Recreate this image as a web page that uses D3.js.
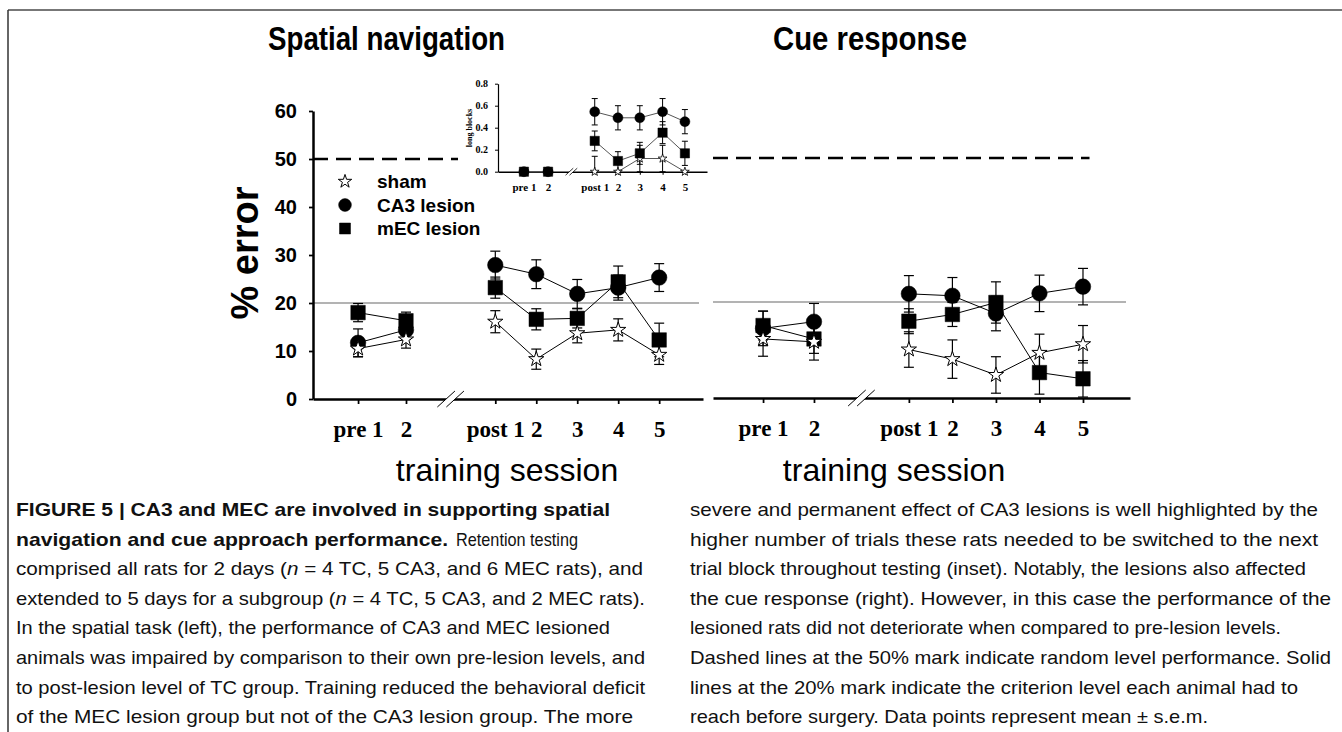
<!DOCTYPE html>
<html>
<head>
<meta charset="utf-8">
<script src="https://cdn.jsdelivr.net/npm/d3@7"></script>
<style>
html,body{margin:0;padding:0;background:#fff;}
svg{display:block;}
</style>
</head>
<body>
<svg id="chart" width="1342" height="732"></svg>
<script>
// ---------------- DATA ----------------
const sessions = ["pre 1", "2", "post 1", "2", "3", "4", "5"];
// position of each session along the axis (session units; pre and post blocks are separated by a break)
const sessionPos = [0, 1.17, 3.35, 4.35, 5.35, 6.35, 7.35];
const insetPos = [0, 1.07, 3.14, 4.17, 5.14, 6.15, 7.14];
const blocks = [[0, 1], [2, 3, 4, 5, 6]];
const errorTicks = [0, 10, 20, 30, 40, 50, 60];
const blockTicks = [0, 0.2, 0.4, 0.6, 0.8];
const chanceLevel = 50;
const criterionLevel = 20;
const groups = ["sham", "CA3 lesion", "mEC lesion"];

// Spatial navigation (% error, mean and s.e.m.)
const spatialSham    = [10.5, 12.4, 16.1, 8.3, 13.7, 14.4, 9.2];
const spatialShamSem = [1.7, 1.8, 2.3, 2.1, 2.0, 2.3, 2.0];
const spatialCA3     = [11.7, 14.4, 27.9, 26.0, 21.9, 23.2, 25.3];
const spatialCA3Sem  = [2.9, 2.0, 2.9, 3.0, 3.0, 2.6, 2.9];
const spatialMEC     = [18.0, 16.3, 23.2, 16.6, 16.8, 24.4, 12.3];
const spatialMECSem  = [1.9, 1.8, 2.2, 2.2, 2.0, 3.3, 3.5];

// Cue response (% error)
const cueSham    = [12.3, 11.7, 10.1, 8.1, 4.8, 9.4, 11.2];
const cueShamSem = [3.6, 3.8, 3.7, 4.0, 3.8, 3.9, 3.9];
const cueCA3     = [14.5, 15.9, 21.7, 21.3, 17.6, 21.8, 23.2];
const cueCA3Sem  = [3.6, 3.8, 3.8, 3.8, 3.6, 3.8, 3.8];
const cueMEC     = [15.1, 12.3, 16.0, 17.4, 19.9, 5.3, 4.0];
const cueMECSem  = [3.0, 3.0, 2.6, 2.5, 4.3, 4.5, 3.8];

// Inset: long blocks
const blockSham    = [0, 0, 0, 0, 0.12, 0.12, 0];
const blockShamSem = [0, 0, 0.14, 0, 0.12, 0.12, 0];
const blockCA3     = [0, 0, 0.545, 0.49, 0.49, 0.545, 0.455];
const blockCA3Sem  = [0, 0, 0.12, 0.11, 0.11, 0.12, 0.11];
const blockMEC     = [0, 0, 0.28, 0.097, 0.167, 0.355, 0.167];
const blockMECSem  = [0, 0, 0.09, 0.085, 0.1, 0.1, 0.11];

// ---------------- DRAWING ----------------
const W = 1342, H = 732;
const sans = "'Liberation Sans', Arial, Helvetica, sans-serif";
const serif = "'Liberation Serif', 'Times New Roman', serif";
const svg = d3.select("#chart");
svg.append("rect").attr("width", W).attr("height", H).attr("fill", "#fff");

// page frame
svg.append("line").attr("x1", 8).attr("x2", W).attr("y1", 10).attr("y2", 10)
  .attr("stroke", "#777").attr("stroke-width", 2);
svg.append("line").attr("x1", 8).attr("x2", 8).attr("y1", 10).attr("y2", H)
  .attr("stroke", "#333").attr("stroke-width", 1.5);

function makeSeries(sham, shamSem, ca3, ca3Sem, mec, mecSem) {
  return [
    {name: groups[0], shape: "star", vals: sham, sem: shamSem},
    {name: groups[1], shape: "circle", vals: ca3, sem: ca3Sem},
    {name: groups[2], shape: "square", vals: mec, sem: mecSem}
  ];
}
const symTypes = {star: d3.symbolStar, circle: d3.symbolCircle, square: d3.symbolSquare};

function drawData(g, x, y, pos, series, st) {
  const y0 = y.domain()[0];
  const line = d3.line().x(d => x(d.p)).y(d => y(d.v));
  series.forEach(s => {
    blocks.forEach(b => {
      g.append("path")
        .datum(b.map(i => ({p: pos[i], v: s.vals[i]})))
        .attr("d", line).attr("fill", "none")
        .attr("stroke", st.lineColor).attr("stroke-width", st.lineWidth);
    });
  });
  series.forEach(s => {
    s.vals.forEach((v, i) => {
      const e = s.sem[i];
      if (!e) return;
      const cx = x(pos[i]);
      const lo = Math.max(y0, v - e), hi = v + e;
      g.append("line").attr("x1", cx).attr("x2", cx).attr("y1", y(lo)).attr("y2", y(hi))
        .attr("stroke", "#000").attr("stroke-width", st.errWidth);
      [hi].concat(v - e >= y0 ? [lo] : []).forEach(val => {
        g.append("line").attr("x1", cx - st.cap / 2).attr("x2", cx + st.cap / 2)
          .attr("y1", y(val)).attr("y2", y(val))
          .attr("stroke", "#000").attr("stroke-width", st.errWidth);
      });
    });
  });
  st.order.forEach(k => {
    const s = series[k];
    g.append("g").selectAll("path")
      .data(s.vals.map((v, i) => ({v, p: pos[i]})))
      .join("path")
      .attr("transform", d => `translate(${x(d.p)},${y(d.v)})`)
      .attr("d", d3.symbol().type(symTypes[s.shape]).size(st.size[s.shape]))
      .attr("fill", s.shape === "star" ? "#fff" : "#000")
      .attr("stroke", "#000")
      .attr("stroke-width", s.shape === "star" ? st.starStroke : 0.5);
  });
}

function drawBreak(g, cx, cy, h, gap, sw) {
  const dx = h * 0.55;
  g.append("polygon")
    .attr("points", [[cx - gap / 2 - dx, cy + h / 2], [cx - gap / 2 + dx, cy - h / 2],
                     [cx + gap / 2 + dx, cy - h / 2], [cx + gap / 2 - dx, cy + h / 2]].join(" "))
    .attr("fill", "#fff");
  [-gap / 2, gap / 2].forEach(o => {
    g.append("line").attr("x1", cx + o - dx).attr("y1", cy + h / 2)
      .attr("x2", cx + o + dx).attr("y2", cy - h / 2)
      .attr("stroke", "#000").attr("stroke-width", sw);
  });
}

function styleAxis(ax, sw, family, size, weight) {
  ax.attr("font-family", family).attr("font-size", size).attr("font-weight", weight);
  ax.selectAll("path.domain").attr("stroke", "#000").attr("stroke-width", sw);
  ax.selectAll(".tick line").attr("stroke", "#000").attr("stroke-width", Math.max(1, sw * 0.7));
  ax.selectAll(".tick text").attr("fill", "#000");
}

const mainStyle = {
  lineColor: "#000", lineWidth: 1, errWidth: 1.2, cap: 10, starStroke: 1,
  size: {star: 72, circle: 190, square: 210}, order: [2, 1, 0]
};
const breakMid = (sessionPos[1] + sessionPos[2]) / 2;

function drawMainPanel(x, y, series, opts) {
  const g = svg.append("g");
  const [xa, xb] = x.range();
  // criterion line (20%)
  g.append("line").attr("x1", xa).attr("x2", xb - 4)
    .attr("y1", y(criterionLevel)).attr("y2", y(criterionLevel))
    .attr("stroke", "#9a9a9a").attr("stroke-width", 1.5);
  // chance line (50%)
  g.append("line").attr("x1", xa).attr("x2", x(opts.chanceEnd))
    .attr("y1", y(chanceLevel)).attr("y2", y(chanceLevel))
    .attr("stroke", "#000").attr("stroke-width", 2.5).attr("stroke-dasharray", "15,8");
  // x axis
  const xAx = g.append("g").attr("transform", `translate(0,${y(0)})`)
    .call(d3.axisBottom(x).tickValues(sessionPos).tickFormat((d, i) => sessions[i])
      .tickSize(5).tickPadding(17).tickSizeOuter(0));
  styleAxis(xAx, 2.5, serif, 23, "bold");
  if (opts.yAxis) {
    const yAx = g.append("g").attr("transform", `translate(${xa},0)`)
      .call(d3.axisLeft(y).tickValues(errorTicks).tickSize(4).tickPadding(12).tickSizeOuter(0));
    styleAxis(yAx, 2.5, sans, 20, "bold");
  }
  drawBreak(g, x(breakMid), y(0), 16, 9, 1);
  drawData(g, x, y, sessionPos, series, mainStyle);
  return g;
}

// Left: spatial navigation
const xL = d3.scaleLinear().domain([-1.1, 8.42]).range([313, 703]);
const yL = d3.scaleLinear().domain([0, 60]).range([399, 111]);
drawMainPanel(xL, yL, makeSeries(spatialSham, spatialShamSem, spatialCA3, spatialCA3Sem, spatialMEC, spatialMECSem),
  {yAxis: true, chanceEnd: 8.42});

// Right: cue response
const xR = d3.scaleLinear().domain([-1.15, 8.43]).range([713, 1130]);
const yR = d3.scaleLinear().domain([0, 60]).range([398, 110]);
drawMainPanel(xR, yR, makeSeries(cueSham, cueShamSem, cueCA3, cueCA3Sem, cueMEC, cueMECSem),
  {yAxis: false, chanceEnd: 7.5});

// Legend
const legend = svg.append("g").attr("font-family", sans).attr("font-size", 19).attr("font-weight", "bold");
const legendSize = {star: 56, circle: 128, square: 121};
["star", "circle", "square"].forEach((shape, i) => {
  const cy = 181.5 + i * 23.5;
  legend.append("path").attr("transform", `translate(345,${cy})`)
    .attr("d", d3.symbol().type(symTypes[shape]).size(legendSize[shape]))
    .attr("fill", shape === "star" ? "#fff" : "#000").attr("stroke", "#000")
    .attr("stroke-width", shape === "star" ? 1 : 0.5);
  legend.append("text").attr("x", 377).attr("y", cy + 6.5).text(groups[i]);
});

// Inset
const xI = d3.scaleLinear().domain([-1.15, 8.12]).range([498, 707]);
const yI = d3.scaleLinear().domain([0, 0.8]).range([171.7, 83.7]);
const gi = svg.append("g");
gi.append("rect").attr("x", 458).attr("y", 76).attr("width", 254).attr("height", 122).attr("fill", "#fff");
const xIAx = gi.append("g").attr("transform", `translate(0,${yI(0)})`)
  .call(d3.axisBottom(xI).tickValues(insetPos).tickFormat((d, i) => sessions[i])
    .tickSize(3).tickPadding(8.5).tickSizeOuter(0));
styleAxis(xIAx, 1.5, serif, 11, "bold");
const yIAx = gi.append("g").attr("transform", `translate(${xI.range()[0]},0)`)
  .call(d3.axisLeft(yI).tickValues(blockTicks).tickFormat(d3.format(".1f"))
    .tickSize(3).tickPadding(7).tickSizeOuter(0));
styleAxis(yIAx, 1.2, serif, 10, "bold");
gi.append("text").attr("transform", "translate(472,128) rotate(-90)")
  .attr("text-anchor", "middle").attr("font-family", serif).attr("font-size", 8)
  .attr("font-weight", "bold").text("long blocks");
drawBreak(gi, xI((insetPos[1] + insetPos[2]) / 2), yI(0), 7, 4, 0.8);
drawData(gi, xI, yI, insetPos,
  makeSeries(blockSham, blockShamSem, blockCA3, blockCA3Sem, blockMEC, blockMECSem),
  {lineColor: "#555", lineWidth: 1, errWidth: 1, cap: 6, starStroke: 0.8,
   size: {star: 24, circle: 78, square: 86}, order: [0, 1, 2]});

// Titles and axis labels
svg.append("text").attr("x", 386.5).attr("y", 50).attr("text-anchor", "middle")
  .attr("font-family", sans).attr("font-size", 34).attr("font-weight", "bold")
  .attr("textLength", 237).attr("lengthAdjust", "spacingAndGlyphs").text("Spatial navigation");
svg.append("text").attr("x", 870).attr("y", 50).attr("text-anchor", "middle")
  .attr("font-family", sans).attr("font-size", 34).attr("font-weight", "bold")
  .attr("textLength", 194).attr("lengthAdjust", "spacingAndGlyphs").text("Cue response");
svg.append("text").attr("transform", "translate(258,253) rotate(-90)").attr("text-anchor", "middle")
  .attr("font-family", sans).attr("font-size", 38).attr("font-weight", "bold").text("% error");
[507, 894].forEach(cx => {
  svg.append("text").attr("x", cx).attr("y", 481).attr("text-anchor", "middle")
    .attr("font-family", sans).attr("font-size", 32).text("training session");
});

// Caption
const captionLeft = [
  {parts: [{t: "FIGURE 5 | CA3 and MEC are involved in supporting spatial", b: true}], end: 610},
  {parts: [{t: "navigation and cue approach performance.", b: true}], end: 448},
  {parts: [{t: "comprised all rats for 2 days ("}, {t: "n", i: true}, {t: " = 4 TC, 5 CA3, and 6 MEC rats), and"}], end: 643},
  {parts: [{t: "extended to 5 days for a subgroup ("}, {t: "n", i: true}, {t: " = 4 TC, 5 CA3, and 2 MEC rats)."}], end: 645},
  {parts: [{t: "In the spatial task (left), the performance of CA3 and MEC lesioned"}], end: 610},
  {parts: [{t: "animals was impaired by comparison to their own pre-lesion levels, and"}], end: 645},
  {parts: [{t: "to post-lesion level of TC group. Training reduced the behavioral deficit"}], end: 645},
  {parts: [{t: "of the MEC lesion group but not of the CA3 lesion group. The more"}], end: 633}
];
const captionRight = [
  {parts: [{t: "severe and permanent effect of CA3 lesions is well highlighted by the"}], end: 1318},
  {parts: [{t: "higher number of trials these rats needed to be switched to the next"}], end: 1318},
  {parts: [{t: "trial block throughout testing (inset). Notably, the lesions also affected"}], end: 1306},
  {parts: [{t: "the cue response (right). However, in this case the performance of the"}], end: 1331},
  {parts: [{t: "lesioned rats did not deteriorate when compared to pre-lesion levels."}], end: 1281},
  {parts: [{t: "Dashed lines at the 50% mark indicate random level performance. Solid"}], end: 1331},
  {parts: [{t: "lines at the 20% mark indicate the criterion level each animal had to"}], end: 1298},
  {parts: [{t: "reach before surgery. Data points represent mean \u00b1 s.e.m."}], end: 1208}
];
const capG = svg.append("g").attr("font-family", sans).attr("font-size", 18.5).attr("fill", "#111");
function captionLine(x0, y, line) {
  const t = capG.append("text").attr("x", x0).attr("y", y)
    .attr("textLength", line.end - x0).attr("lengthAdjust", "spacingAndGlyphs");
  line.parts.forEach(p => {
    const ts = t.append("tspan").text(p.t);
    if (p.b) ts.attr("font-weight", "bold");
    if (p.i) ts.attr("font-style", "italic");
  });
}
const capY0 = 516, capDy = 29.6;
captionLeft.forEach((l, i) => captionLine(16, capY0 + i * capDy, l));
// rest of line 2 (regular weight)
capG.append("text").attr("x", 456).attr("y", capY0 + capDy)
  .attr("textLength", 122).attr("lengthAdjust", "spacingAndGlyphs").text("Retention testing");
captionRight.forEach((l, i) => captionLine(690, capY0 + i * capDy, l));
</script>
</body>
</html>
